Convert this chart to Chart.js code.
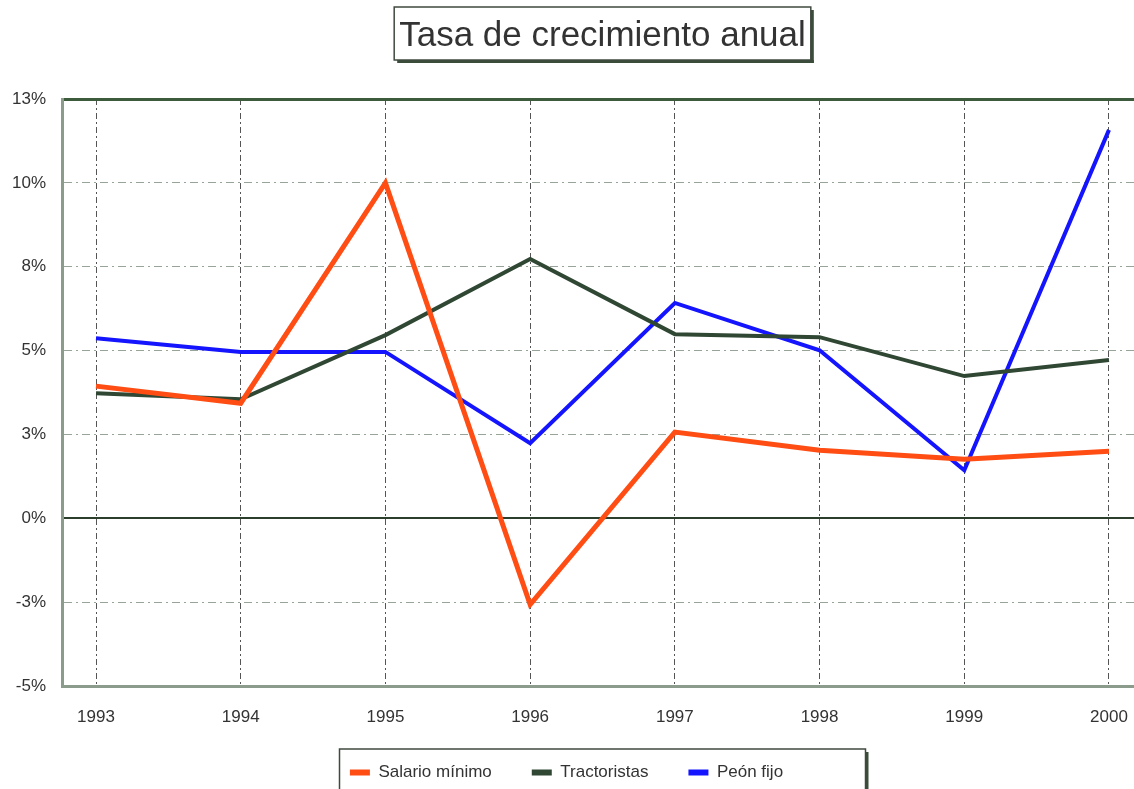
<!DOCTYPE html>
<html>
<head>
<meta charset="utf-8">
<script src="https://cdn.jsdelivr.net/npm/chart.js@4.4.0/dist/chart.umd.min.js"></script>
<style>
  html, body { margin: 0; padding: 0; background: #fff; }
  #wrap { width: 1134px; height: 789px; overflow: hidden; position: relative; }
  #wrap canvas { position: absolute; left: 0; top: 0; }
</style>
</head>
<body>
<div id="wrap"><canvas id="chart" width="1205" height="791"></canvas></div>
<script>
// tasas anuales (%)
const years = [1993, 1994, 1995, 1996, 1997, 1998, 1999, 2000];
const salarioMinimo = [3.94, 3.43, 10.0, -2.57, 2.57, 2.03, 1.76, 2.0];
const tractoristas = [3.73, 3.55, 5.46, 7.73, 5.49, 5.4, 4.24, 4.72];
const peonFijo = [5.37, 4.96, 4.96, 2.24, 6.42, 5.01, 1.43, 11.58];
const seriesLabels = ['Salario mínimo', 'Tractoristas', 'Peón fijo'];
const seriesColors = ['#ff4d14', '#2f4733', '#1414ff'];
const seriesWidths = [5, 4, 4];

Chart.defaults.font.family = '"Liberation Sans", Arial, sans-serif';

const toPoints = vals => years.map((yr, i) => ({ x: yr, y: vals[i] }));

// marcos con sombra del título y de la leyenda
const frames = {
    id: 'frames',
    afterLayout(chart) {
        // título centrado sobre el área del gráfico, leyenda algo a la izquierda
        chart.titleBlock.left += 31;
        chart.titleBlock.right += 31;
        chart.legend.left -= 5;
        chart.legend.right -= 5;
    },
    afterDraw(chart) {
        const ctx = chart.ctx;
        const area = chart.chartArea;
        const cx = (area.left + area.right) / 2;

        const box = (l, t, r, b) => {
            ctx.save();
            ctx.fillStyle = '#3a4d3a';
            ctx.fillRect(r, t + 3, 3, b - t);
            ctx.fillRect(l + 3, b, r - l, 3);
            ctx.strokeStyle = '#3f4a3f';
            ctx.lineWidth = 1.5;
            ctx.strokeRect(l, t, r - l, b - t);
            ctx.restore();
        };

        const tb = chart.titleBlock;
        ctx.save();
        ctx.font = '35px "Liberation Sans", Arial, sans-serif';
        const tw = ctx.measureText(chart.options.plugins.title.text).width;
        ctx.restore();
        box(cx - tw / 2 - 5, tb.top + 7, cx + tw / 2 + 5, tb.top + 60);

        const lg = chart.legend;
        box(cx - 263, lg.top + 25, cx + 263, lg.top + 90);
    }
};

const ctx = document.getElementById('chart').getContext('2d');
new Chart(ctx, {
    type: 'line',
    data: {
        datasets: [salarioMinimo, tractoristas, peonFijo].map((vals, i) => ({
            label: seriesLabels[i],
            data: toPoints(vals),
            borderColor: seriesColors[i],
            backgroundColor: seriesColors[i],
            borderWidth: seriesWidths[i],
            pointRadius: 0,
            tension: 0,
            fill: false
        }))
    },
    options: {
        responsive: false,
        animation: false,
        layout: { padding: { left: 0, right: 62, top: 0, bottom: 0 } },
        scales: {
            x: {
                type: 'linear',
                min: 1992.765,
                max: 2000.235,
                afterBuildTicks(scale) {
                    scale.ticks = years.map(v => ({ value: v }));
                },
                afterFit(scale) { scale.height = 38; },
                ticks: {
                    padding: 21,
                    color: '#333',
                    font: { size: 17 },
                    callback: v => String(v)
                },
                grid: { drawTicks: false, color: '#555', lineWidth: 1 },
                border: { color: '#8c9c8c', width: 3, dash: [6, 3, 2, 3] }
            },
            y: {
                min: -5,
                max: 12.5,
                afterFit(scale) { scale.width = 62; },
                ticks: {
                    stepSize: 2.5,
                    padding: 16,
                    color: '#333',
                    font: { size: 17 },
                    callback: v => Math.sign(v) * Math.round(Math.abs(v)) + '%'
                },
                grid: {
                    drawTicks: false,
                    color: c => {
                        const v = c.tick ? c.tick.value : null;
                        if (v === 0) return '#2c3f2c';
                        if (v === 12.5) return '#3c5a3c';
                        if (v === -5) return '#8c9c8c';
                        return 'rgba(110, 125, 110, 0.7)';
                    },
                    lineWidth: c => {
                        const v = c.tick ? c.tick.value : null;
                        if (v === 12.5 || v === -5) return 3;
                        if (v === 0) return 2;
                        return 1;
                    }
                },
                border: {
                    color: '#8c9c8c',
                    width: 3,
                    dash: c => {
                        const v = c.tick ? c.tick.value : null;
                        return (v === 0 || v === 12.5 || v === -5) ? [] : [8, 4, 2, 4];
                    }
                }
            }
        },
        plugins: {
            title: {
                display: true,
                text: 'Tasa de crecimiento anual',
                color: '#333',
                font: { size: 35, weight: 'normal' },
                padding: { top: 15, bottom: 42 }
            },
            legend: {
                position: 'bottom',
                labels: {
                    boxWidth: 20,
                    boxHeight: 6,
                    padding: 40,
                    color: '#333',
                    font: { size: 17 },
                    generateLabels(chart) {
                        const items = Chart.defaults.plugins.legend.labels.generateLabels(chart);
                        items.forEach(it => { it.lineWidth = 0; it.fillStyle = it.strokeStyle; });
                        return items;
                    }
                }
            },
            tooltip: { enabled: false }
        }
    },
    plugins: [frames]
});
</script>
</body>
</html>
